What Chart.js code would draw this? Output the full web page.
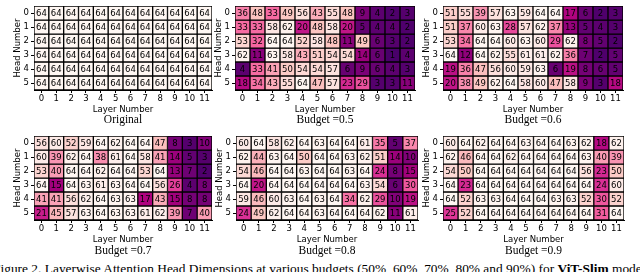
<!DOCTYPE html>
<html><head><meta charset="utf-8">
<script src="https://cdn.jsdelivr.net/npm/chart.js@4.4.1/dist/chart.umd.min.js"></script>
<style>
html,body{margin:0;padding:0;background:#fff;width:640px;height:272px;overflow:hidden;position:relative}
canvas{position:absolute}
.sub{position:absolute;font-family:'Liberation Serif','Times New Roman',serif;font-size:11.5px;line-height:14px;color:#000;white-space:nowrap;transform:translateX(-50%)}
#cap{position:absolute;font-family:'Liberation Serif','Times New Roman',serif;font-size:13.42px;line-height:16px;color:#000;white-space:nowrap;top:261px;left:0}
</style></head><body>
<div id="cap"><span id="capF">F</span>igure 2. Layerwise Attention Head Dimensions at various budgets (50%, 60%, 70%, 80% and 90%) for <b>ViT-Slim</b> model.</div>
<script>
const layerLabels = ['0','1','2','3','4','5','6','7','8','9','10','11'];
const headLabels = [0,1,2,3,4,5];

const original = [
[64,64,64,64,64,64,64,64,64,64,64,64],
[64,64,64,64,64,64,64,64,64,64,64,64],
[64,64,64,64,64,64,64,64,64,64,64,64],
[64,64,64,64,64,64,64,64,64,64,64,64],
[64,64,64,64,64,64,64,64,64,64,64,64],
[64,64,64,64,64,64,64,64,64,64,64,64]];

const budget05 = [
[36,48,33,49,56,43,55,48,9,4,2,3],
[33,33,58,62,20,48,58,20,5,4,4,2],
[53,32,64,64,52,58,48,11,49,6,3,2],
[62,11,63,58,43,51,54,54,14,6,1,4],
[4,33,41,50,54,54,57,6,9,6,4,3],
[18,34,43,55,64,47,57,23,29,3,3,11]];

const budget06 = [
[51,55,39,57,63,59,64,64,17,6,2,3],
[51,37,60,63,28,57,62,37,13,5,4,3],
[53,34,64,64,60,63,60,29,62,8,5,2],
[64,12,64,62,55,61,61,62,36,7,2,5],
[19,36,47,56,60,59,63,6,19,8,6,5],
[20,38,49,62,64,58,60,47,58,9,3,18]];

const budget07 = [
[56,60,52,59,64,62,64,64,47,8,3,10],
[60,39,62,64,38,61,64,58,41,14,5,3],
[53,40,64,64,62,64,64,53,64,13,7,2],
[64,15,64,63,61,63,64,64,56,26,4,8],
[41,41,56,62,64,63,63,17,43,15,8,8],
[21,45,57,63,64,63,63,61,62,39,7,40]];

const budget08 = [
[60,64,58,62,64,63,64,64,61,35,5,37],
[62,44,63,64,50,64,64,63,62,51,14,10],
[54,46,64,64,63,64,64,63,64,24,8,15],
[64,20,64,64,64,64,64,64,63,54,6,30],
[59,46,60,63,64,63,64,34,62,29,10,19],
[24,49,62,64,64,63,64,64,64,62,11,61]];

const budget09 = [
[60,64,62,64,64,63,64,64,63,62,18,62],
[62,46,64,64,62,64,64,64,64,63,40,39],
[54,50,64,64,64,64,64,64,64,56,23,50],
[64,23,64,64,64,64,64,64,64,64,24,60],
[64,52,63,63,64,64,64,63,63,52,30,52],
[25,52,64,64,64,64,64,64,64,64,31,64]];

const panelTitles = ['Original','Budget =0.5','Budget =0.6','Budget =0.7','Budget =0.8','Budget =0.9'];
const panelData = [original,budget05,budget06,budget07,budget08,budget09];

// layout (pixels)
const boxes = [
  {gl:34, gt:1, gw:178, gh:89},
  {gl:235, gt:1, gw:180, gh:89},
  {gl:443, gt:1, gw:180, gh:89},
  {gl:34, gt:131, gw:178, gh:89},
  {gl:236, gt:131, gw:182, gh:89},
  {gl:443, gt:131, gw:181, gh:89}
];
const YW = 28, XH = 26, PT = 2, PR = 6;

// RdPu reversed
const stops = ['#49006a','#7a0177','#ae017e','#dd3497','#f768a1','#fa9fb5','#fcc5c0','#fde0dd','#fff7f3'];
function hex(h){return [parseInt(h.slice(1,3),16),parseInt(h.slice(3,5),16),parseInt(h.slice(5,7),16)];}
function cmap(v){
  let t = (v-1)/63; t = Math.max(0,Math.min(1,t));
  const p = t*(stops.length-1); const i = Math.min(stops.length-2, Math.floor(p)); const f = p-i;
  const a = hex(stops[i]), b = hex(stops[i+1]);
  return 'rgb('+a.map((c,k)=>Math.round(c+(b[k]-c)*f)).join(',')+')';
}

const cellText = {
  id:'cellText',
  afterDatasetsDraw(chart){
    const ctx = chart.ctx;
    ctx.save();
    ctx.font = '8.5px "DejaVu Sans"';
    ctx.fillStyle = '#000'; ctx.textAlign = 'center'; ctx.textBaseline = 'middle';
    chart.data.datasets.forEach((ds,i)=>{
      const meta = chart.getDatasetMeta(i);
      meta.data.forEach((el,j)=>{
        ctx.fillText(String(ds.values[j]), el.x, (el.y+el.base)/2 + 0.5);
      });
    });
    ctx.restore();
  }
};

const axFont = {family:'DejaVu Sans', size:8.5};

panelData.forEach((vals,pi)=>{
  const b = boxes[pi];
  const cv = document.createElement('canvas');
  const W = YW + b.gw + PR, H = PT + b.gh + XH;
  cv.width = W; cv.height = H;
  cv.style.left = (b.gl - YW)+'px'; cv.style.top = (b.gt - PT)+'px';
  cv.style.width = W+'px'; cv.style.height = H+'px';
  document.body.appendChild(cv);

  const datasets = headLabels.map(r=>({
    data: layerLabels.map(()=>[r-0.5, r+0.5]),
    values: vals[r],
    backgroundColor: vals[r].map(cmap),
    borderColor:'#000', borderWidth:1, borderSkipped:false,
    barPercentage:1, categoryPercentage:1, grouped:false
  }));

  new Chart(cv, {
    type:'bar',
    data:{labels:layerLabels, datasets},
    plugins:[cellText],
    options:{
      responsive:false, animation:false, events:[],
      layout:{padding:{top:PT,right:PR,left:0,bottom:0}},
      plugins:{legend:{display:false}, tooltip:{enabled:false}},
      scales:{
        x:{type:'category', offset:true,
           grid:{offset:false, drawOnChartArea:false, drawTicks:true, tickLength:3, color:'#000', lineWidth:1},
           border:{display:true, color:'#000', width:1},
           ticks:{font:axFont, color:'#000', padding:1, maxRotation:0, autoSkip:false},
           title:{display:true, text:'Layer Number', font:axFont, color:'#000', padding:{top:0,bottom:1.5}},
           afterFit(s){ s.height = XH; }
        },
        y:{type:'linear', min:-0.5, max:5.5, reverse:true,
           afterBuildTicks(s){ s.ticks = headLabels.map(v=>({value:v})); },
           grid:{drawOnChartArea:false, drawTicks:true, tickLength:3, color:'#000', lineWidth:1},
           border:{display:true, color:'#000', width:1},
           ticks:{font:axFont, color:'#000', padding:2, callback:v=>String(v)},
           title:{display:true, text:'Head Number', font:axFont, color:'#000', padding:{top:6.5,bottom:0}},
           afterFit(s){ s.width = YW; }
        }
      }
    }
  });

  const sd = document.createElement('div');
  sd.className = 'sub';
  sd.textContent = panelTitles[pi];
  sd.style.left = (b.gl + b.gw/2)+'px';
  sd.style.top = (b.gt + b.gh + (pi < 3 ? 22 : 23))+'px';
  document.body.appendChild(sd);
});

// caption: the leading "F" is cropped at the left edge in the reference
document.getElementById('cap').style.left = (-document.getElementById('capF').offsetWidth)+'px';
</script>
</body></html>
